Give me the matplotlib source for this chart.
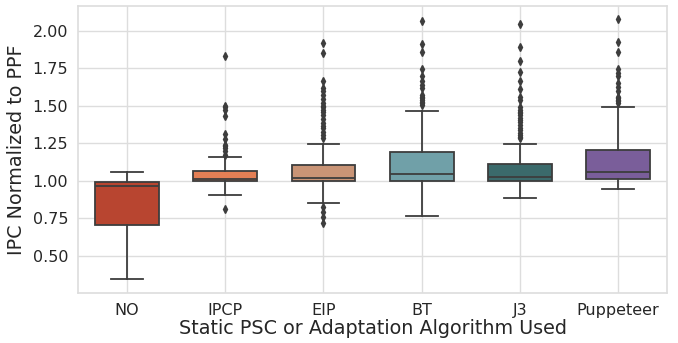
import matplotlib
matplotlib.use("Agg")
import matplotlib.pyplot as plt

plt.rcParams["font.family"] = ["DejaVu Sans"]

# Datos (cuartiles, bigotes y valores atípicos)
categorias = ["NO", "IPCP", "EIP", "BT", "J3", "Puppeteer"]
colores = ["#b84530", "#e47f55", "#c99476", "#70a0a8", "#3b6a6b", "#7a5e9a"]

q1 = [0.707, 1.000, 1.000, 1.000, 1.002, 1.011]
mediana = [0.965, 1.012, 1.018, 1.044, 1.025, 1.060]
q3 = [0.995, 1.069, 1.109, 1.193, 1.111, 1.209]
bigote_bajo = [0.345, 0.907, 0.855, 0.767, 0.884, 0.949]
bigote_alto = [1.060, 1.160, 1.247, 1.469, 1.249, 1.491]

atipicos = [
    [],
    [1.835, 1.50, 1.49, 1.47, 1.43, 1.31, 1.28, 1.24, 1.23, 1.22, 1.20, 1.17, 0.813],
    [1.922, 1.851, 1.667, 1.618, 1.596, 1.57, 1.545, 1.52, 1.50, 1.49, 1.473, 1.46,
     1.44, 1.41, 1.389, 1.367, 1.35, 1.329, 1.307, 1.289, 0.824, 0.795, 0.762, 0.722],
    [2.069, 1.911, 1.856, 1.745, 1.696, 1.667, 1.64, 1.618, 1.573, 1.56, 1.551,
     1.54, 1.529, 1.518, 1.507],
    [2.044, 1.893, 1.80, 1.729, 1.667, 1.611, 1.562, 1.54, 1.491, 1.475, 1.462,
     1.45, 1.44, 1.42, 1.407, 1.39, 1.373, 1.355, 1.34, 1.32, 1.307, 1.295, 1.284],
    [2.08, 1.927, 1.856, 1.747, 1.72, 1.696, 1.651, 1.625, 1.602, 1.562, 1.55,
     1.54, 1.53, 1.518],
]

stats = []
for i, nombre in enumerate(categorias):
    stats.append({
        "label": nombre,
        "q1": q1[i], "med": mediana[i], "q3": q3[i],
        "whislo": bigote_bajo[i], "whishi": bigote_alto[i],
        "fliers": atipicos[i],
    })

fig = plt.figure(figsize=(6.78, 3.43), dpi=100)
ax = fig.add_axes([0.115, 0.146, 0.869, 0.837])

gris = "#3d3d3d"
ancho = 0.65
bp = ax.bxp(stats, positions=range(len(categorias)), widths=ancho,
            capwidths=ancho / 2, patch_artist=True,
            boxprops=dict(edgecolor=gris, linewidth=1.3),
            medianprops=dict(color=gris, linewidth=1.3),
            whiskerprops=dict(color=gris, linewidth=1.3),
            capprops=dict(color=gris, linewidth=1.3),
            flierprops=dict(marker="d", markerfacecolor=gris, markeredgecolor=gris,
                            markersize=4, linestyle="none"))
for caja, c in zip(bp["boxes"], colores):
    caja.set_facecolor(c)

ax.set_xlim(-0.5, len(categorias) - 0.5)
ax.set_ylim(0.253, 2.167)
ax.set_yticks([0.5, 0.75, 1.0, 1.25, 1.5, 1.75, 2.0])
ax.set_yticklabels(["0.50", "0.75", "1.00", "1.25", "1.50", "1.75", "2.00"])
ax.set_xticks(range(len(categorias)))
ax.set_xticklabels(categorias)

ax.grid(True, color="#dddddd", linewidth=1)
ax.set_axisbelow(True)
for s in ax.spines.values():
    s.set_color("#dddddd")
    s.set_linewidth(1.2)
ax.tick_params(length=0, labelsize=11.5, colors="#262626", pad=7)

ax.set_xlabel("Static PSC or Adaptation Algorithm Used", fontsize=13.8,
              color="#262626", labelpad=1)
ax.set_ylabel("IPC Normalized to PPF", fontsize=13.8, color="#262626", labelpad=5)

fig.savefig("out.png", dpi=100)
